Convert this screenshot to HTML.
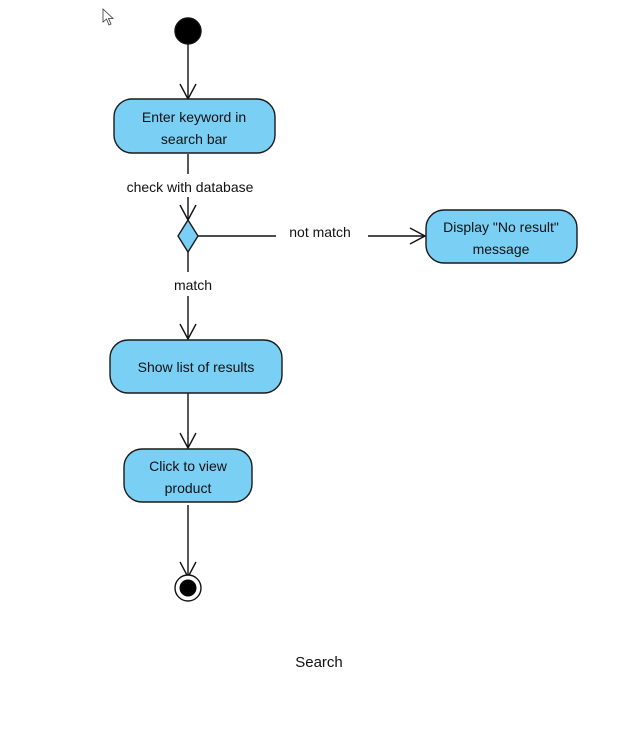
<!DOCTYPE html>
<html><head><style>
html,body{margin:0;padding:0;background:#fff;}
svg text{font-family:"Liberation Sans",Arial,sans-serif;font-size:14px;fill:#111;}
</style></head><body>
<svg width="618" height="731" viewBox="0 0 618 731" xmlns="http://www.w3.org/2000/svg">
<path d="M103 9 L103 22 L106.5 19 L109 25 L111 24 L108.5 18.5 L113 18.5 Z" fill="#fff" stroke="#333" stroke-width="0.8"/>
<g stroke="#111" stroke-width="1.4" fill="none">
<circle cx="188" cy="31" r="13" fill="#000"/>
<line x1="188" y1="44" x2="188" y2="99"/><path d="M180 84 L188 99 L196 84"/>
<line x1="188" y1="154" x2="188" y2="174"/>
<line x1="188" y1="197" x2="188" y2="220"/><path d="M180 205 L188 220 L196 205"/>
<line x1="198" y1="236" x2="276" y2="236"/>
<line x1="368" y1="236" x2="425" y2="236"/><path d="M410 228 L425 236 L410 244"/>
<line x1="188" y1="252" x2="188" y2="272"/>
<line x1="188" y1="296" x2="188" y2="339"/><path d="M180 324 L188 339 L196 324"/>
<line x1="188" y1="393" x2="188" y2="448"/><path d="M180 433 L188 448 L196 433"/>
<line x1="188" y1="505" x2="188" y2="577"/><path d="M180 562 L188 577 L196 562"/>
<circle cx="188" cy="588" r="13" fill="#fff"/>
<circle cx="188" cy="588" r="8.5" fill="#000" stroke="none"/>
</g>
<g fill="#7acff5" stroke="#1a1a1a" stroke-width="1.4">
<rect x="114" y="99" width="161" height="54" rx="18"/>
<path d="M188 220 L198 236 L188 252 L178 236 Z"/>
<rect x="426" y="210" width="151" height="53" rx="18"/>
<rect x="110" y="340" width="172" height="53" rx="18"/>
<rect x="124" y="449" width="128" height="53" rx="18"/>
</g>
<g text-anchor="middle">
<text x="194" y="122">Enter keyword in</text>
<text x="194" y="144">search bar</text>
<text x="190" y="192">check with database</text>
<text x="320" y="237">not match</text>
<text x="501" y="232">Display "No result"</text>
<text x="501" y="254">message</text>
<text x="193" y="290">match</text>
<text x="196" y="372">Show list of results</text>
<text x="188" y="471">Click to view</text>
<text x="188" y="493">product</text>
<text x="319" y="667" style="font-size:15px">Search</text>
</g>
</svg>
</body></html>
